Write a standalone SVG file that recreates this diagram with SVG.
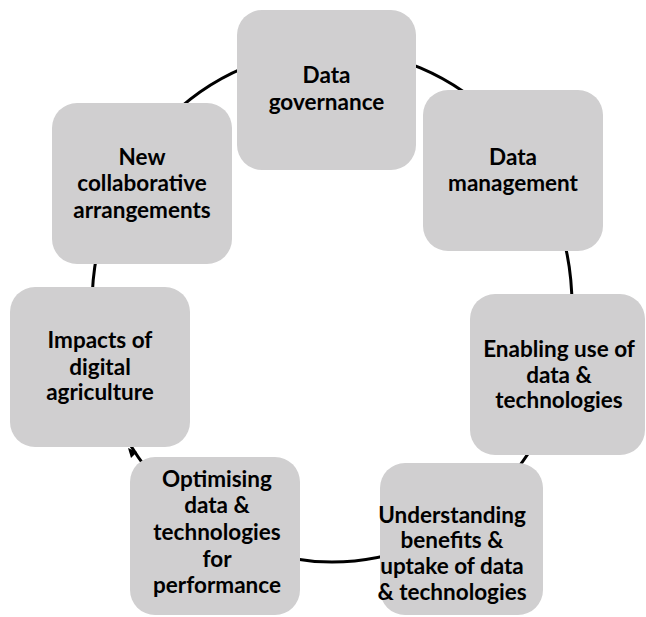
<svg xmlns="http://www.w3.org/2000/svg" width="646" height="617" viewBox="0 0 646 617">
<style>
.box{fill:#d0cfd0;}
.t{font-family:Lato,"Open Sans","Liberation Sans",sans-serif;font-weight:bold;font-size:22.5px;fill:#000;text-anchor:middle;}
.ring{fill:none;stroke:#000;stroke-width:3;}
</style>
<rect width="646" height="617" fill="#fff"/>
<g id="connectors">
<ellipse class="ring" cx="332" cy="306" rx="240" ry="256"/>
<polygon points="128,448 137,452 131,458" fill="#000"/>
</g>
<g id="n1"><rect class="box" x="237" y="10" width="179" height="160" rx="25"/>
<text class="t" x="326.5" y="83">Data</text><text class="t" x="326.5" y="110">governance</text></g>
<g id="n2"><rect class="box" x="423" y="90" width="180" height="161" rx="25"/>
<text class="t" x="513" y="165">Data</text><text class="t" x="513" y="191">management</text></g>
<g id="n3"><rect class="box" x="470" y="294" width="175" height="161" rx="25"/>
<text class="t" x="559" y="357">Enabling use of</text><text class="t" x="559" y="383">data &amp;</text><text class="t" x="559" y="408">technologies</text></g>
<g id="n4"><rect class="box" x="380" y="463" width="163" height="152" rx="25"/>
<text class="t" x="452" y="523">Understanding</text><text class="t" x="452" y="548">benefits &amp;</text><text class="t" x="452" y="574">uptake of data</text><text class="t" x="452" y="600">&amp; technologies</text></g>
<g id="n5"><rect class="box" x="130" y="457" width="170" height="158" rx="25"/>
<text class="t" x="217" y="487">Optimising</text><text class="t" x="217" y="513">data &amp;</text><text class="t" x="217" y="540">technologies</text><text class="t" x="217" y="567">for</text><text class="t" x="217" y="593">performance</text></g>
<g id="n6"><rect class="box" x="10" y="287" width="180" height="160" rx="25"/>
<text class="t" x="100" y="348">Impacts of</text><text class="t" x="100" y="375">digital</text><text class="t" x="100" y="400">agriculture</text></g>
<g id="n7"><rect class="box" x="52" y="103" width="180" height="161" rx="25"/>
<text class="t" x="142" y="165">New</text><text class="t" x="142" y="191">collaborative</text><text class="t" x="142" y="218">arrangements</text></g>
</svg>
